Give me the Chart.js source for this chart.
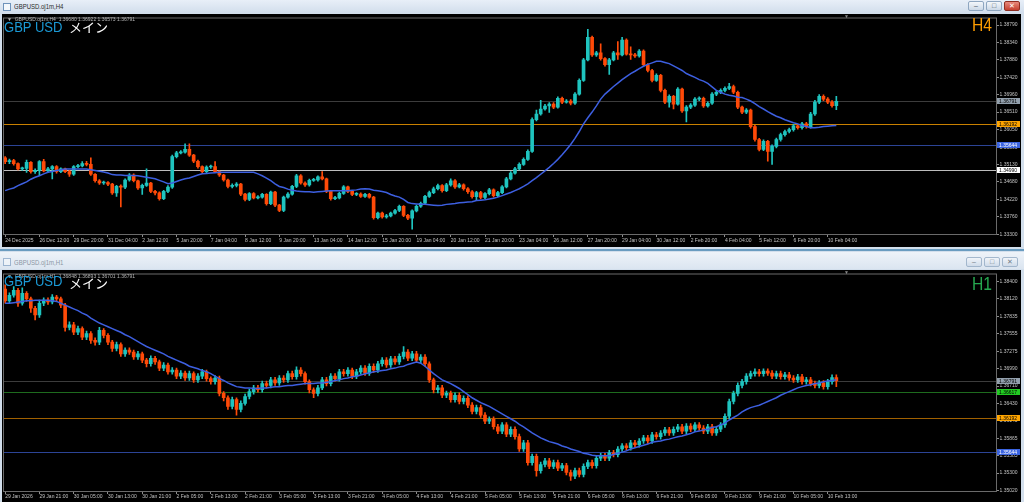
<!DOCTYPE html>
<html>
<head>
<meta charset="utf-8">
<title>GBPUSD H4 / H1</title>
<script src="https://cdn.jsdelivr.net/npm/chart.js@4.4.1/dist/chart.umd.min.js"></script>
<style>
  html, body { margin: 0; padding: 0; }
  body { width: 1024px; height: 502px; position: relative; overflow: hidden; background: #d3dfec; font-family: "Liberation Sans", Arial, sans-serif; }
  .title { position: absolute; left: 0; width: 1024px; background: linear-gradient(#e8eff8, #d2deec); }
  .ico { position: absolute; left: 3px; width: 6px; height: 6px; border: 1px solid #6f93bb; background: #f4f8fc; }
  .ttl { position: absolute; left: 14px; font-size: 7.5px; line-height: 8px; transform: scaleX(0.8); transform-origin: 0 0; white-space: nowrap; }
  .btn { position: absolute; width: 16px; height: 10px; border: 1px solid #8ea6c0; border-radius: 2px; box-sizing: border-box; background: linear-gradient(#f4f7fb, #cbd8e7); font-size: 7px; line-height: 8px; text-align: center; color: #4a5563; }
  .btn.close { background: linear-gradient(#e88a7d, #c5402f); border-color: #8f2e22; color: #fff; }
  .pane { position: absolute; left: 2px; width: 1019px; background: #000; }
  .pane canvas { position: absolute; left: 0; top: 0; }
  .info { position: absolute; left: 7px; font-size: 5px; line-height: 6px; color: #b5b5b5; white-space: pre; }
  .sym { position: absolute; left: 4px; font-size: 14.5px; line-height: 15px; color: #1b9ad6; white-space: nowrap; transform: scaleX(0.9); transform-origin: 0 0; }
  .jp { position: absolute; left: 69px; font-family: "Noto Sans CJK JP", sans-serif; font-size: 13px; line-height: 15px; color: #fff; }
  .tf { position: absolute; left: 972px; font-size: 18px; line-height: 20px; transform: scaleX(0.87); transform-origin: 0 0; }
  .shift { position: absolute; left: 844px; font-size: 5px; line-height: 5px; color: #8a8a8a; }
</style>
</head>
<body>

<div class="title" style="top:0;height:13px;">
  <span class="ico" style="top:3px"></span>
  <span class="ttl" style="top:3px;color:#2a2a2a">GBPUSD.oj1m,H4</span>
</div>
<div class="btn" style="left:968px;top:1px">&#8211;</div>
<div class="btn" style="left:986px;top:1px">&#9633;</div>
<div class="btn close" style="left:1004px;top:1px">&#10005;</div>
<div class="pane" style="top:14px;height:233px"><canvas id="h4" width="1019" height="233"></canvas></div>

<div style="position:absolute;left:0;top:249px;width:1024px;height:2px;background:#6a9cc0"></div>
<div class="title" style="top:252px;height:17px;background:linear-gradient(#eef3f9,#dbe5f0)">
  <span class="ico" style="top:6px;opacity:.6"></span>
  <span class="ttl" style="top:7px;color:#8a96a4">GBPUSD.oj1m,H1</span>
</div>
<div class="btn" style="left:966px;top:257px;opacity:.75">&#8211;</div>
<div class="btn" style="left:984px;top:257px;opacity:.75">&#9633;</div>
<div class="btn" style="left:1002px;top:257px;opacity:.75">&#10005;</div>
<div class="pane" style="top:270px;height:232px"><canvas id="h1" width="1019" height="232"></canvas></div>

<div class="info" style="top:16px">&#9660;  GBPUSD.oj1m,H4  1.36680 1.36922 1.36573 1.36791</div>
<div class="sym" style="top:20px">GBP USD</div>
<div class="jp" style="top:19px">メイン</div>
<div class="tf" style="top:14.5px;color:#ff9d00">H4</div>
<div class="shift" style="top:14px">&#9660;</div>

<div class="info" style="top:272.5px">&#9660;  GBPUSD.oj1m,H1  1.36848 1.36893 1.36701 1.36791</div>
<div class="sym" style="top:274.2px">GBP USD</div>
<div class="jp" style="top:274.5px">メイン</div>
<div class="tf" style="top:273.5px;color:#26a850">H1</div>
<div class="shift" style="top:270px">&#9660;</div>

<script>
// ---- H4 (upper window) ----
const h4Ticks = ['24 Dec 2025','26 Dec 12:00','29 Dec 20:00','31 Dec 04:00','2 Jan 12:00','5 Jan 20:00','7 Jan 04:00','8 Jan 12:00','9 Jan 20:00','13 Jan 04:00','14 Jan 12:00','15 Jan 20:00','19 Jan 04:00','20 Jan 12:00','21 Jan 20:00','23 Jan 04:00','26 Jan 12:00','27 Jan 20:00','29 Jan 04:00','30 Jan 12:00','2 Feb 20:00','4 Feb 04:00','5 Feb 12:00','6 Feb 20:00','10 Feb 04:00'];
const h4YTicks = [1.38790,1.38340,1.37880,1.37420,1.36960,1.36510,1.36050,1.35590,1.35130,1.34680,1.34220,1.33760,1.33300];
const h4Open0 = 1.3531;
const h4Close = [
  1.3521,1.3524,1.3516,1.3502,1.3503,1.3519,1.3495,1.3498,1.3521,1.3497,
  1.3502,1.3508,1.3495,1.3502,1.3495,1.3488,1.3508,1.3510,1.3516,1.3514,
  1.3488,1.3471,1.3465,1.3466,1.3462,1.3439,1.3456,1.3454,1.3473,1.3486,
  1.3471,1.3452,1.3459,1.3465,1.3443,1.3439,1.3424,1.3443,1.3454,1.3534,
  1.3544,1.3546,1.3553,1.3538,1.3522,1.3508,1.3495,1.3507,1.3508,1.3495,
  1.3486,1.3473,1.3456,1.3459,1.3462,1.3436,1.3422,1.3437,1.3426,1.3428,
  1.3435,1.3411,1.3441,1.3407,1.3393,1.3428,1.3436,1.3456,1.3484,1.3465,
  1.3460,1.3472,1.3473,1.3481,1.3476,1.3443,1.3424,1.3426,1.3438,1.3455,
  1.3443,1.3435,1.3436,1.3430,1.3435,1.3428,1.3374,1.3386,1.3376,1.3379,
  1.3386,1.3393,1.3404,1.3380,1.3373,1.3392,1.3404,1.3412,1.3430,1.3440,
  1.3450,1.3458,1.3445,1.3460,1.3471,1.3455,1.3460,1.3450,1.3442,1.3429,
  1.3440,1.3427,1.3437,1.3447,1.3432,1.3440,1.3455,1.3476,1.3491,1.3502,
  1.3514,1.3527,1.3548,1.3631,1.3646,1.3659,1.3667,1.3672,1.3664,1.3687,
  1.3677,1.3680,1.3674,1.3698,1.3734,1.3788,1.3847,1.3801,1.3806,1.3791,
  1.3775,1.3788,1.3806,1.3801,1.3840,1.3803,1.3801,1.3798,1.3811,1.3775,
  1.3760,1.3734,1.3747,1.3708,1.3677,1.3692,1.3672,1.3711,1.3654,1.3664,
  1.3669,1.3685,1.3687,1.3667,1.3674,1.3698,1.3703,1.3708,1.3713,1.3718,
  1.3703,1.3664,1.3651,1.3656,1.3613,1.3579,1.3553,1.3574,1.3548,1.3561,
  1.3579,1.3592,1.3600,1.3605,1.3615,1.3610,1.3620,1.3613,1.3646,1.3677,
  1.3692,1.3685,1.3677,1.3668,1.36791
];
const h4High = [
  1.3534,1.3528,1.3527,1.3518,1.3507,1.3525,1.3521,1.3502,1.3524,1.3527,
  1.3506,1.3511,1.3511,1.3505,1.3504,1.3498,1.3511,1.3514,1.3521,1.3522,
  1.3531,1.3490,1.3474,1.3470,1.3469,1.3464,1.3459,1.3460,1.3476,1.3490,
  1.3489,1.3473,1.3462,1.3502,1.3467,1.3446,1.3442,1.3446,1.3458,1.3538,
  1.3548,1.3550,1.3568,1.3568,1.3540,1.3525,1.3510,1.3510,1.3512,1.3521,
  1.3497,1.3488,1.3475,1.3463,1.3466,1.3464,1.3438,1.3440,1.3440,1.3432,
  1.3438,1.3437,1.3444,1.3443,1.3409,1.3431,1.3440,1.3459,1.3488,1.3487,
  1.3468,1.3475,1.3477,1.3484,1.3495,1.3478,1.3445,1.3430,1.3441,1.3458,
  1.3457,1.3445,1.3440,1.3439,1.3438,1.3438,1.3430,1.3389,1.3389,1.3383,
  1.3389,1.3396,1.3407,1.3406,1.3383,1.3395,1.3407,1.3415,1.3433,1.3444,
  1.3454,1.3462,1.3461,1.3464,1.3476,1.3474,1.3464,1.3463,1.3453,1.3445,
  1.3443,1.3443,1.3440,1.3451,1.3450,1.3443,1.3458,1.3480,1.3495,1.3506,
  1.3518,1.3531,1.3552,1.3636,1.3656,1.3682,1.3671,1.3676,1.3676,1.3691,
  1.3690,1.3684,1.3684,1.3702,1.3738,1.3792,1.3868,1.3850,1.3810,1.3830,
  1.3794,1.3792,1.3810,1.3836,1.3847,1.3843,1.3822,1.3805,1.3815,1.3814,
  1.3778,1.3763,1.3751,1.3750,1.3711,1.3696,1.3695,1.3715,1.3714,1.3668,
  1.3673,1.3689,1.3691,1.3690,1.3678,1.3702,1.3707,1.3712,1.3717,1.3726,
  1.3722,1.3706,1.3667,1.3660,1.3659,1.3616,1.3582,1.3578,1.3577,1.3565,
  1.3583,1.3596,1.3604,1.3609,1.3619,1.3619,1.3624,1.3624,1.3650,1.3682,
  1.3697,1.3696,1.3689,1.3681,1.36922
];
const h4Low = [
  1.3516,1.3516,1.3512,1.3499,1.3498,1.3493,1.3491,1.3490,1.3484,1.3494,
  1.3493,1.3476,1.3491,1.3492,1.3492,1.3482,1.3485,1.3505,1.3507,1.3510,
  1.3485,1.3467,1.3461,1.3461,1.3458,1.3435,1.3430,1.3402,1.3450,1.3470,
  1.3468,1.3448,1.3435,1.3456,1.3440,1.3434,1.3420,1.3421,1.3440,1.3451,
  1.3531,1.3541,1.3543,1.3535,1.3518,1.3504,1.3491,1.3492,1.3503,1.3492,
  1.3482,1.3470,1.3452,1.3452,1.3455,1.3432,1.3418,1.3419,1.3423,1.3423,
  1.3425,1.3407,1.3408,1.3403,1.3390,1.3390,1.3425,1.3433,1.3453,1.3462,
  1.3456,1.3457,1.3469,1.3470,1.3473,1.3440,1.3420,1.3421,1.3423,1.3435,
  1.3440,1.3432,1.3432,1.3427,1.3427,1.3425,1.3370,1.3371,1.3373,1.3373,
  1.3376,1.3383,1.3390,1.3377,1.3369,1.3344,1.3389,1.3401,1.3409,1.3427,
  1.3437,1.3447,1.3441,1.3442,1.3457,1.3451,1.3452,1.3446,1.3438,1.3425,
  1.3420,1.3423,1.3424,1.3434,1.3428,1.3429,1.3437,1.3452,1.3473,1.3488,
  1.3499,1.3511,1.3524,1.3545,1.3628,1.3643,1.3656,1.3650,1.3660,1.3661,
  1.3673,1.3674,1.3670,1.3671,1.3695,1.3731,1.3785,1.3797,1.3797,1.3787,
  1.3771,1.3750,1.3785,1.3789,1.3798,1.3800,1.3789,1.3794,1.3795,1.3771,
  1.3756,1.3730,1.3731,1.3704,1.3673,1.3664,1.3659,1.3669,1.3650,1.3625,
  1.3660,1.3666,1.3681,1.3663,1.3664,1.3671,1.3694,1.3699,1.3704,1.3710,
  1.3699,1.3660,1.3647,1.3647,1.3609,1.3575,1.3549,1.3550,1.3522,1.3514,
  1.3557,1.3575,1.3588,1.3596,1.3601,1.3606,1.3606,1.3609,1.3609,1.3642,
  1.3673,1.3681,1.3673,1.3664,1.36573
];
const h4Ma = [
  1.3445,1.3449,1.3452,1.3458,1.3463,1.3468,1.3475,1.3480,1.3484,1.3489,
  1.3493,1.3495,1.3498,1.3500,1.3502,1.3502,1.3502,1.3502,1.3502,1.3502,
  1.3500,1.3498,1.3496,1.3494,1.3491,1.3487,1.3486,1.3486,1.3485,1.3485,
  1.3485,1.3484,1.3482,1.3480,1.3478,1.3476,1.3472,1.3468,1.3463,1.3465,
  1.3469,1.3473,1.3476,1.3478,1.3482,1.3486,1.3489,1.3490,1.3491,1.3492,
  1.3493,1.3493,1.3493,1.3493,1.3493,1.3493,1.3493,1.3493,1.3493,1.3489,
  1.3484,1.3478,1.3471,1.3463,1.3456,1.3453,1.3449,1.3446,1.3444,1.3443,
  1.3442,1.3442,1.3441,1.3442,1.3443,1.3444,1.3445,1.3445,1.3445,1.3445,
  1.3445,1.3446,1.3447,1.3449,1.3450,1.3449,1.3446,1.3445,1.3443,1.3440,
  1.3435,1.3431,1.3428,1.3422,1.3414,1.3411,1.3410,1.3409,1.3409,1.3408,
  1.3407,1.3406,1.3407,1.3409,1.3410,1.3411,1.3413,1.3414,1.3415,1.3416,
  1.3419,1.3420,1.3421,1.3423,1.3425,1.3428,1.3432,1.3436,1.3440,1.3445,
  1.3450,1.3456,1.3463,1.3471,1.3479,1.3488,1.3497,1.3506,1.3516,1.3527,
  1.3539,1.3552,1.3566,1.3582,1.3600,1.3620,1.3636,1.3651,1.3667,1.3685,
  1.3698,1.3708,1.3718,1.3727,1.3736,1.3744,1.3752,1.3758,1.3765,1.3771,
  1.3776,1.3780,1.3784,1.3784,1.3781,1.3778,1.3772,1.3766,1.3760,1.3752,
  1.3747,1.3742,1.3736,1.3732,1.3726,1.3717,1.3708,1.3703,1.3698,1.3695,
  1.3693,1.3690,1.3689,1.3685,1.3680,1.3673,1.3665,1.3659,1.3652,1.3646,
  1.3640,1.3636,1.3631,1.3627,1.3623,1.3620,1.3616,1.3613,1.3610,1.3610,
  1.3611,1.3613,1.3614,1.3615,1.3616
];
const h4Levels = [1.36791, 1.36192, 1.35644, 1.34990];

// ---- H1 (lower window) ----
const h1Ticks = ['29 Jan 2026','29 Jan 21:00','30 Jan 05:00','30 Jan 13:00','30 Jan 21:00','2 Feb 05:00','2 Feb 13:00','2 Feb 21:00','3 Feb 05:00','3 Feb 13:00','3 Feb 21:00','4 Feb 05:00','4 Feb 13:00','4 Feb 21:00','5 Feb 05:00','5 Feb 13:00','5 Feb 21:00','6 Feb 05:00','6 Feb 13:00','6 Feb 21:00','9 Feb 05:00','9 Feb 13:00','9 Feb 21:00','10 Feb 05:00','10 Feb 13:00'];
const h1YTicks = [1.38400,1.38120,1.37835,1.37555,1.37275,1.36990,1.36710,1.36430,1.36145,1.35865,1.35585,1.35300,1.35020];
const h1Open0 = 1.3828;
const h1Close = [
  1.3809,1.3818,1.3826,1.3805,1.3821,1.3812,1.3797,1.3786,1.3805,1.3810,
  1.3807,1.3815,1.3812,1.3802,1.3766,1.3770,1.3758,1.3764,1.3750,1.3756,
  1.3745,1.3742,1.3761,1.3753,1.3742,1.3732,1.3738,1.3723,1.3729,1.3726,
  1.3718,1.3723,1.3713,1.3707,1.3716,1.3710,1.3700,1.3705,1.3694,1.3697,
  1.3687,1.3692,1.3684,1.3691,1.3681,1.3687,1.3694,1.3683,1.3678,1.3684,
  1.3659,1.3652,1.3638,1.3649,1.3633,1.3643,1.3654,1.3662,1.3668,1.3665,
  1.3675,1.3672,1.3681,1.3676,1.3684,1.3681,1.3691,1.3686,1.3697,1.3691,
  1.3678,1.3665,1.3659,1.3668,1.3681,1.3675,1.3687,1.3683,1.3694,1.3691,
  1.3697,1.3687,1.3694,1.3700,1.3692,1.3703,1.3697,1.3707,1.3713,1.3705,
  1.3715,1.3710,1.3719,1.3726,1.3716,1.3723,1.3713,1.3718,1.3707,1.3681,
  1.3665,1.3668,1.3656,1.3659,1.3649,1.3656,1.3646,1.3651,1.3640,1.3630,
  1.3636,1.3624,1.3614,1.3617,1.3605,1.3598,1.3608,1.3593,1.3601,1.3589,
  1.3569,1.3579,1.3547,1.3557,1.3534,1.3544,1.3550,1.3541,1.3547,1.3538,
  1.3542,1.3531,1.3525,1.3534,1.3528,1.3541,1.3547,1.3542,1.3554,1.3558,
  1.3554,1.3563,1.3560,1.3569,1.3574,1.3571,1.3579,1.3576,1.3582,1.3587,
  1.3582,1.3592,1.3589,1.3595,1.3600,1.3595,1.3601,1.3605,1.3598,1.3606,
  1.3601,1.3608,1.3603,1.3598,1.3605,1.3595,1.3601,1.3608,1.3622,1.3646,
  1.3659,1.3672,1.3678,1.3687,1.3691,1.3694,1.3691,1.3695,1.3692,1.3687,
  1.3691,1.3686,1.3689,1.3684,1.3681,1.3686,1.3678,1.3681,1.3675,1.3672,
  1.3676,1.3670,1.3678,1.36848,1.36791
];
const h1High = [
  1.3835,1.3822,1.3832,1.3829,1.3830,1.3824,1.3815,1.3800,1.3810,1.3814,
  1.3814,1.3819,1.3818,1.3815,1.3805,1.3775,1.3774,1.3768,1.3767,1.3760,
  1.3759,1.3749,1.3766,1.3764,1.3756,1.3745,1.3742,1.3741,1.3733,1.3733,
  1.3729,1.3727,1.3726,1.3716,1.3720,1.3719,1.3713,1.3709,1.3708,1.3701,
  1.3700,1.3696,1.3695,1.3695,1.3694,1.3691,1.3698,1.3697,1.3686,1.3688,
  1.3687,1.3662,1.3655,1.3653,1.3652,1.3647,1.3658,1.3666,1.3672,1.3672,
  1.3679,1.3679,1.3685,1.3685,1.3688,1.3688,1.3695,1.3695,1.3702,1.3701,
  1.3694,1.3681,1.3668,1.3672,1.3685,1.3685,1.3691,1.3691,1.3698,1.3698,
  1.3701,1.3700,1.3698,1.3704,1.3704,1.3707,1.3707,1.3711,1.3717,1.3717,
  1.3719,1.3719,1.3723,1.3735,1.3730,1.3727,1.3727,1.3722,1.3722,1.3710,
  1.3684,1.3672,1.3672,1.3663,1.3663,1.3660,1.3660,1.3655,1.3655,1.3644,
  1.3640,1.3640,1.3628,1.3621,1.3621,1.3609,1.3612,1.3612,1.3605,1.3605,
  1.3593,1.3583,1.3583,1.3561,1.3561,1.3548,1.3554,1.3554,1.3551,1.3551,
  1.3546,1.3546,1.3535,1.3538,1.3538,1.3545,1.3551,1.3551,1.3558,1.3562,
  1.3562,1.3567,1.3567,1.3573,1.3578,1.3578,1.3583,1.3583,1.3586,1.3591,
  1.3591,1.3596,1.3596,1.3599,1.3604,1.3604,1.3605,1.3609,1.3609,1.3610,
  1.3610,1.3612,1.3612,1.3607,1.3609,1.3609,1.3605,1.3612,1.3626,1.3650,
  1.3663,1.3676,1.3682,1.3691,1.3695,1.3699,1.3698,1.3699,1.3699,1.3696,
  1.3695,1.3695,1.3693,1.3693,1.3688,1.3690,1.3690,1.3685,1.3685,1.3679,
  1.3680,1.3680,1.3682,1.3689,1.36893
];
const h1Low = [
  1.3805,1.3805,1.3815,1.3800,1.3802,1.3808,1.3790,1.3778,1.3782,1.3801,
  1.3803,1.3804,1.3808,1.3798,1.3760,1.3762,1.3754,1.3754,1.3746,1.3746,
  1.3740,1.3737,1.3738,1.3749,1.3738,1.3727,1.3728,1.3719,1.3719,1.3722,
  1.3714,1.3714,1.3709,1.3702,1.3703,1.3706,1.3696,1.3696,1.3690,1.3690,
  1.3683,1.3683,1.3680,1.3680,1.3677,1.3677,1.3683,1.3679,1.3674,1.3674,
  1.3655,1.3647,1.3633,1.3634,1.3624,1.3629,1.3640,1.3650,1.3658,1.3661,
  1.3661,1.3668,1.3668,1.3672,1.3672,1.3677,1.3677,1.3682,1.3682,1.3687,
  1.3674,1.3660,1.3652,1.3655,1.3665,1.3671,1.3671,1.3679,1.3679,1.3687,
  1.3687,1.3683,1.3683,1.3690,1.3688,1.3688,1.3693,1.3693,1.3703,1.3701,
  1.3701,1.3706,1.3706,1.3715,1.3712,1.3712,1.3709,1.3709,1.3703,1.3677,
  1.3660,1.3660,1.3652,1.3652,1.3645,1.3645,1.3642,1.3642,1.3636,1.3626,
  1.3626,1.3620,1.3610,1.3610,1.3601,1.3594,1.3594,1.3589,1.3589,1.3585,
  1.3565,1.3565,1.3543,1.3543,1.3525,1.3530,1.3540,1.3537,1.3537,1.3534,
  1.3534,1.3527,1.3518,1.3521,1.3524,1.3524,1.3537,1.3538,1.3538,1.3550,
  1.3550,1.3550,1.3556,1.3556,1.3565,1.3567,1.3567,1.3572,1.3572,1.3578,
  1.3578,1.3578,1.3585,1.3585,1.3591,1.3591,1.3591,1.3597,1.3594,1.3594,
  1.3597,1.3597,1.3599,1.3594,1.3594,1.3591,1.3591,1.3597,1.3604,1.3618,
  1.3642,1.3655,1.3668,1.3674,1.3683,1.3687,1.3687,1.3687,1.3688,1.3683,
  1.3683,1.3682,1.3682,1.3680,1.3677,1.3677,1.3674,1.3674,1.3671,1.3668,
  1.3668,1.3666,1.3666,1.3674,1.36701
];
const h1Ma = [
  1.3805,1.3805,1.3806,1.3807,1.3808,1.3809,1.3809,1.3810,1.3810,1.3810,
  1.3810,1.3809,1.3808,1.3805,1.3802,1.3799,1.3796,1.3793,1.3789,1.3786,
  1.3781,1.3777,1.3773,1.3770,1.3767,1.3764,1.3761,1.3758,1.3754,1.3751,
  1.3747,1.3743,1.3739,1.3735,1.3732,1.3729,1.3726,1.3723,1.3719,1.3716,
  1.3713,1.3710,1.3707,1.3703,1.3701,1.3699,1.3696,1.3694,1.3691,1.3687,
  1.3683,1.3680,1.3676,1.3673,1.3670,1.3669,1.3668,1.3668,1.3667,1.3667,
  1.3668,1.3668,1.3669,1.3670,1.3670,1.3671,1.3672,1.3672,1.3673,1.3674,
  1.3675,1.3675,1.3675,1.3676,1.3676,1.3677,1.3678,1.3680,1.3681,1.3683,
  1.3684,1.3686,1.3687,1.3689,1.3691,1.3692,1.3694,1.3695,1.3696,1.3697,
  1.3699,1.3700,1.3702,1.3703,1.3706,1.3708,1.3710,1.3708,1.3703,1.3697,
  1.3691,1.3686,1.3681,1.3678,1.3675,1.3671,1.3667,1.3662,1.3657,1.3652,
  1.3648,1.3644,1.3641,1.3638,1.3634,1.3630,1.3626,1.3622,1.3618,1.3614,
  1.3609,1.3605,1.3600,1.3595,1.3591,1.3587,1.3584,1.3581,1.3579,1.3577,
  1.3574,1.3572,1.3569,1.3567,1.3565,1.3562,1.3561,1.3559,1.3558,1.3558,
  1.3558,1.3558,1.3560,1.3562,1.3564,1.3566,1.3569,1.3571,1.3573,1.3575,
  1.3577,1.3580,1.3581,1.3582,1.3584,1.3585,1.3587,1.3589,1.3590,1.3592,
  1.3594,1.3597,1.3598,1.3600,1.3601,1.3604,1.3605,1.3608,1.3611,1.3616,
  1.3620,1.3624,1.3629,1.3633,1.3636,1.3638,1.3640,1.3643,1.3646,1.3649,
  1.3652,1.3656,1.3659,1.3662,1.3665,1.3668,1.3670,1.3672,1.3673,1.3675,
  1.3676,1.3678,1.3679,1.3680,1.3681
];
const h1Levels = [1.36791, 1.36617, 1.36192, 1.35644];

// ---- look ----
const SLOTS = 232;          // candle slots incl. the empty shift area on the right
const UP = '#1fc4bf';
const DOWN = '#ff4a08';
const FONT = '"Liberation Sans", Arial, sans-serif';
const h4LevelStyle = [
  { line: '#3c3c3c', tag: '#93a0ad', text: '#000' },
  { line: '#c98000', tag: '#ffa500', text: '#000' },
  { line: '#2c4496', tag: '#3b64e0', text: '#fff' },
  { line: '#bdbdbd', tag: '#ffffff', text: '#000' }
];
const h1LevelStyle = [
  { line: '#3c3c3c', tag: '#93a0ad', text: '#000' },
  { line: '#1e6b1e', tag: '#22cc22', text: '#000' },
  { line: '#a06000', tag: '#ffa500', text: '#000' },
  { line: '#2c4496', tag: '#3b64e0', text: '#fff' }
];

// horizontal price lines, their tags on the price axis and the chart frame
const levelsPlugin = {
  id: 'levels',
  beforeDatasetsDraw(chart, args, opts) {
    const { ctx, chartArea: a, scales: { y } } = chart;
    ctx.save();
    ctx.lineWidth = 1;
    opts.values.forEach((v, i) => {
      const py = Math.round(y.getPixelForValue(v)) + 0.5;
      ctx.strokeStyle = opts.styles[i].line;
      ctx.beginPath(); ctx.moveTo(a.left, py); ctx.lineTo(a.right, py); ctx.stroke();
    });
    ctx.restore();
  },
  afterDraw(chart, args, opts) {
    const { ctx, chartArea: a, scales: { y } } = chart;
    ctx.save();
    ctx.strokeStyle = '#6a6a6a';
    ctx.lineWidth = 1;
    ctx.strokeRect(a.left + 0.5, a.top + 0.5, a.right - a.left - 1, a.bottom - a.top - 1);
    ctx.font = '5px ' + FONT;
    ctx.textBaseline = 'middle';
    opts.values.forEach((v, i) => {
      const py = Math.round(y.getPixelForValue(v));
      ctx.fillStyle = opts.styles[i].tag;
      ctx.fillRect(a.right, py - 3, 23, 6);
      ctx.fillStyle = opts.styles[i].text;
      ctx.fillText(v.toFixed(5), a.right + 2, py + 0.5);
    });
    ctx.restore();
  }
};

function candleChart(id, o) {
  const labels = [];
  for (let i = 0; i < SLOTS; i++) labels.push(i % 8 === 0 && o.ticks[i / 8] ? o.ticks[i / 8] : '');
  const open = o.close.map((c, i) => i ? o.close[i - 1] : o.open0);
  const colors = o.close.map((c, i) => c >= open[i] ? UP : DOWN);

  new Chart(document.getElementById(id), {
    type: 'bar',
    data: {
      labels,
      datasets: [
        { type: 'line', data: o.ma, borderColor: '#3d5fe0', borderWidth: 1.5, pointRadius: 0, order: 0 },
        { data: open.map((v, i) => [v, o.close[i]]), backgroundColor: colors, barThickness: 3, minBarLength: 1, grouped: false, order: 1 },
        { data: o.low.map((v, i) => [v, o.high[i]]), backgroundColor: colors, barThickness: 1, grouped: false, order: 2 }
      ]
    },
    plugins: [levelsPlugin],
    options: {
      responsive: false,
      animation: false,
      events: [],
      layout: { padding: { left: 1, top: 0, right: 0, bottom: 0 } },
      plugins: {
        legend: { display: false },
        tooltip: { enabled: false },
        levels: { values: o.levels, styles: o.levelStyle }
      },
      scales: {
        x: {
          offset: true,
          grid: { drawOnChartArea: false, offset: false, tickLength: 2, color: '#8c8c8c' },
          border: { display: false },
          ticks: { autoSkip: false, maxRotation: 0, align: 'start', padding: o.xPad, color: '#c2c2c2', font: { size: 5, family: FONT } },
          afterBuildTicks: s => { s.ticks = s.ticks.filter(t => labels[t.value]); },
          afterFit: s => { s.height = o.axisH; }
        },
        y: {
          position: 'right',
          min: o.min,
          max: o.max,
          grid: { drawOnChartArea: false, tickLength: 2, color: '#8c8c8c' },
          border: { display: false },
          ticks: { padding: 0.5, color: '#c2c2c2', font: { size: 5, family: FONT }, callback: v => v.toFixed(5) },
          afterBuildTicks: s => { s.ticks = o.yTicks.map(v => ({ value: v })); },
          afterFit: s => { s.width = 24; }
        }
      }
    }
  });
}

candleChart('h4', {
  ticks: h4Ticks, yTicks: h4YTicks, open0: h4Open0, close: h4Close, high: h4High, low: h4Low, ma: h4Ma,
  levels: h4Levels, levelStyle: h4LevelStyle, min: 1.33287, max: 1.38989, axisH: 12, xPad: 1
});
candleChart('h1', {
  ticks: h1Ticks, yTicks: h1YTicks, open0: h1Open0, close: h1Close, high: h1High, low: h1Low, ma: h1Ma,
  levels: h1Levels, levelStyle: h1LevelStyle, min: 1.34994, max: 1.38532, axisH: 10, xPad: 0
});
</script>
</body>
</html>
